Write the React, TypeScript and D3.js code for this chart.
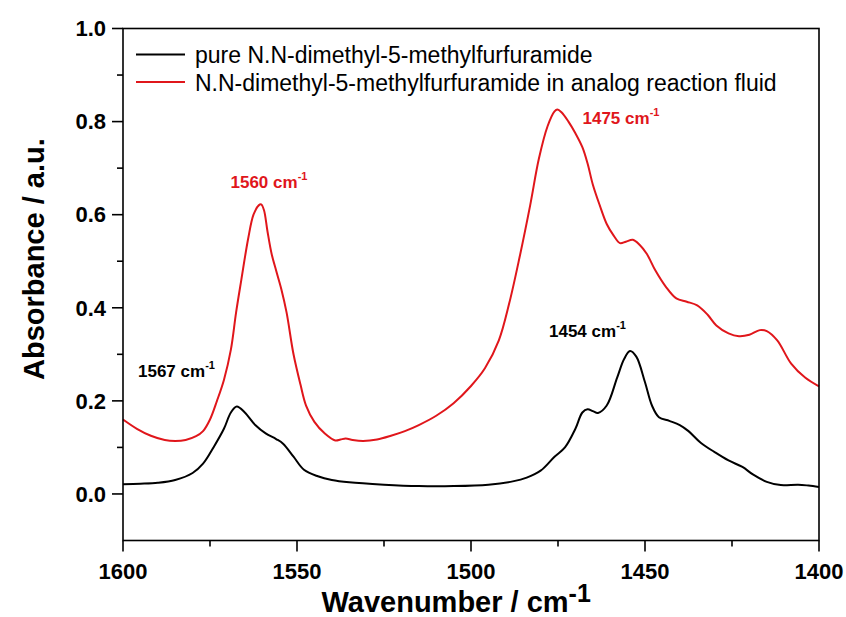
import React from "react";
import * as d3 from "d3";

const pureWavenumber = [1600,1595,1590,1585,1580,1577,1574,1571,1569,1567.3,1565,1562,1559,1556,1554,1551,1548,1544,1540,1535,1525,1515,1505,1495,1488,1484,1480,1476,1473,1470,1468,1466.5,1465,1463.5,1461,1458,1456,1454.3,1452.5,1450,1448,1446,1443,1440,1437.5,1434,1430,1426,1422,1419,1415,1411,1406,1403,1400];
const pureAbs = [0.021,0.022,0.024,0.03,0.045,0.065,0.1,0.14,0.175,0.188,0.175,0.148,0.13,0.118,0.108,0.08,0.052,0.038,0.03,0.025,0.02,0.017,0.017,0.02,0.027,0.035,0.05,0.08,0.1,0.14,0.175,0.182,0.178,0.174,0.19,0.25,0.29,0.307,0.295,0.24,0.19,0.165,0.157,0.148,0.135,0.11,0.09,0.072,0.058,0.042,0.026,0.019,0.02,0.018,0.015];

const fluidWavenumber = [1600,1596,1592,1588,1585,1582,1579,1577,1575,1573,1571,1569,1567.5,1566,1564,1562.5,1561,1560.3,1559.5,1558.5,1557.3,1556,1554.5,1553,1551,1549,1547.4,1545,1542,1539,1537.5,1536,1534,1531,1527,1523,1519,1515,1510,1505,1500,1496,1492,1489,1486,1483,1480.5,1478,1476,1475.2,1474,1472,1470,1468,1466.5,1465,1463,1461,1459,1457.2,1455.5,1453.5,1451.5,1449.5,1447,1444,1441,1438,1435,1432,1429.5,1426,1423,1420,1417,1415,1412,1408,1404,1400];
const fluidAbs = [0.16,0.14,0.125,0.116,0.114,0.116,0.124,0.135,0.16,0.2,0.245,0.31,0.39,0.46,0.55,0.6,0.62,0.622,0.61,0.565,0.516,0.48,0.44,0.39,0.3,0.235,0.19,0.155,0.13,0.115,0.117,0.119,0.116,0.114,0.117,0.125,0.135,0.148,0.168,0.195,0.232,0.27,0.33,0.41,0.51,0.62,0.72,0.79,0.822,0.826,0.82,0.8,0.775,0.745,0.71,0.665,0.62,0.58,0.555,0.539,0.542,0.546,0.535,0.516,0.48,0.445,0.42,0.413,0.405,0.385,0.362,0.345,0.339,0.342,0.352,0.35,0.33,0.28,0.25,0.231];

const xMajorTicks = [1600, 1550, 1500, 1450, 1400];
const xMinorTicks = [1575, 1525, 1475, 1425];
const yMajorTicks = [0.0, 0.2, 0.4, 0.6, 0.8, 1.0];
const yMinorTicks = [0.1, 0.3, 0.5, 0.7, 0.9];

const seriesNames = [
  "pure N.N-dimethyl-5-methylfurfuramide",
  "N.N-dimethyl-5-methylfurfuramide in analog reaction fluid",
];
const seriesColors = ["#000000", "#e0161b"];

const annotations = [
  { label: "1567 cm", color: "#000000" },
  { label: "1560 cm", color: "#e0161b" },
  { label: "1475 cm", color: "#e0161b" },
  { label: "1454 cm", color: "#000000" },
];
const annotPos = [
  { x: 138, y: 377 },
  { x: 230.5, y: 188 },
  { x: 582.5, y: 123.5 },
  { x: 549, y: 336.5 },
];

const FONT = "'Liberation Sans', Arial, Helvetica, sans-serif";

export default function App() {
  const left = 123, right = 819, top = 28.5, bottom = 540.5;
  const x = d3.scaleLinear().domain([1600, 1400]).range([left, right]);
  const y = d3.scaleLinear().domain([-0.1, 1.0]).range([bottom, top]);

  const line = d3
    .line<[number, number]>()
    .x((d) => x(d[0]))
    .y((d) => y(d[1]))
    .curve(d3.curveCatmullRom.alpha(0.5));

  const pure = pureWavenumber.map((w, i) => [w, pureAbs[i]] as [number, number]);
  const fluid = fluidWavenumber.map((w, i) => [w, fluidAbs[i]] as [number, number]);

  return (
    <svg
      width={846}
      height={617}
      style={{ position: "absolute", left: 0, top: 0, background: "#ffffff" }}
      fontFamily={FONT}
    >
      <rect x={0} y={0} width={846} height={617} fill="#ffffff" />
      <path d={line(pure) || ""} fill="none" stroke={seriesColors[0]} strokeWidth={2} />
      <path d={line(fluid) || ""} fill="none" stroke={seriesColors[1]} strokeWidth={2} />

      <rect x={left} y={top} width={right - left} height={bottom - top} fill="none" stroke="#000" strokeWidth={1.6} />

      {xMajorTicks.map((t) => (
        <g key={"xM" + t}>
          <line x1={x(t)} x2={x(t)} y1={bottom} y2={bottom + 11} stroke="#000" strokeWidth={1.6} />
          <text x={x(t)} y={578.5} textAnchor="middle" fontSize={22} fontWeight="bold">{t}</text>
        </g>
      ))}
      {xMinorTicks.map((t) => (
        <line key={"xm" + t} x1={x(t)} x2={x(t)} y1={bottom} y2={bottom + 6} stroke="#000" strokeWidth={1.6} />
      ))}

      {yMajorTicks.map((t) => (
        <g key={"yM" + t}>
          <line x1={left - 11} x2={left} y1={y(t)} y2={y(t)} stroke="#000" strokeWidth={1.6} />
          <text x={106} y={y(t) + 7.8} textAnchor="end" fontSize={22} fontWeight="bold">{t.toFixed(1)}</text>
        </g>
      ))}
      {yMinorTicks.map((t) => (
        <line key={"ym" + t} x1={left - 6} x2={left} y1={y(t)} y2={y(t)} stroke="#000" strokeWidth={1.6} />
      ))}

      <text x={321.5} y={611.5} fontSize={29} fontWeight="bold">
        Wavenumber / cm
        <tspan fontSize={25} dy={-10}>-1</tspan>
      </text>
      <text transform="translate(44,380) rotate(-90)" x={0} y={0} fontSize={29} fontWeight="bold">
        Absorbance / a.u.
      </text>

      {seriesNames.map((name, i) => (
        <g key={name}>
          <line x1={136} x2={185} y1={54.5 + i * 27.5} y2={54.5 + i * 27.5} stroke={seriesColors[i]} strokeWidth={1.8} />
          <text x={195} y={63 + i * 27.5} fontSize={23}>{name}</text>
        </g>
      ))}

      {annotations.map((a, i) => (
        <text key={a.label + i} x={annotPos[i].x} y={annotPos[i].y} fontSize={17} fontWeight="bold" fill={a.color}>
          {a.label}
          <tspan fontSize={11} dy={-8}>-1</tspan>
        </text>
      ))}
    </svg>
  );
}
